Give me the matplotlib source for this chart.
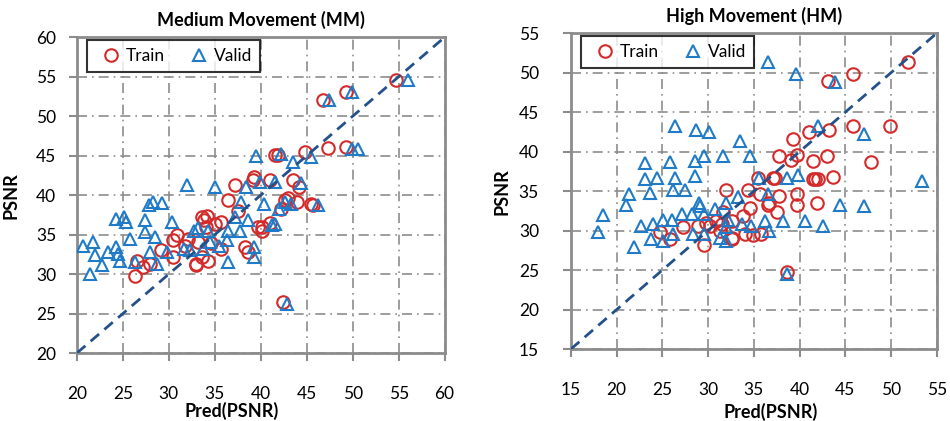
import matplotlib.pyplot as plt

plt.rcParams['font.family'] = ['Lato', 'DejaVu Sans']

# Medium Movement (MM)
mm_train_x = [26.3, 26.5, 27.2, 28.0, 29.1, 30.5, 30.5, 30.9, 31.8, 32.1, 32.9, 33.0, 33.2, 33.6, 33.6,
              33.8, 34.0, 34.1, 34.3, 34.6, 35.0, 35.7, 35.7, 36.4, 37.2, 37.5, 38.3, 38.6, 39.2, 39.3,
              39.7, 40.1, 40.1, 41.0, 41.0, 41.5, 41.9, 42.2, 42.4, 42.6, 43.0, 43.5, 43.9, 44.2, 44.8,
              45.5, 45.7, 46.8, 47.3, 49.3, 49.3, 54.7]
mm_train_y = [29.8, 31.7, 30.9, 31.3, 33.0, 32.2, 34.3, 34.9, 33.6, 34.5, 31.1, 31.3, 34.1, 32.2, 37.2,
              36.8, 36.0, 37.4, 31.7, 33.9, 36.3, 36.6, 33.2, 39.4, 41.3, 38.0, 33.4, 32.8, 41.9, 42.3,
              36.0, 35.5, 36.0, 36.5, 41.9, 45.1, 45.1, 38.3, 26.4, 39.4, 39.6, 41.9, 39.1, 41.0, 45.5,
              38.9, 38.7, 52.0, 46.0, 53.1, 46.1, 54.6]

mm_valid_x = [21.4, 20.7, 21.8, 22.0, 22.7, 23.4, 24.3, 24.5, 24.7, 24.3, 25.1, 25.3, 25.8, 26.3, 27.4,
              27.4, 27.8, 28.3, 29.2, 28.5, 28.0, 28.7, 29.8, 30.3, 31.6, 32.0, 32.3, 32.7, 33.2, 33.7,
              34.3, 34.5, 35.5, 35.0, 36.4, 36.3, 36.4, 37.7, 37.2, 37.9, 38.6, 38.4, 39.3, 39.3, 39.5,
              39.9, 40.4, 41.2, 41.5, 41.5, 42.0, 42.2, 42.6, 42.8, 43.3, 43.5, 44.4, 45.5, 46.2, 47.4,
              49.9, 49.9, 50.6, 56.0]
mm_valid_y = [30.0, 33.6, 34.1, 32.4, 31.1, 32.8, 33.4, 32.6, 31.7, 37.0, 37.2, 36.6, 34.5, 31.5, 36.8,
              35.3, 38.7, 39.1, 39.0, 34.7, 32.8, 31.3, 32.8, 36.6, 33.2, 41.3, 33.0, 35.5, 35.8, 33.2,
              35.5, 34.0, 33.5, 41.0, 35.5, 34.3, 31.5, 35.5, 37.2, 39.1, 36.8, 41.0, 33.4, 32.2, 45.0,
              41.7, 38.9, 36.2, 41.7, 36.4, 38.3, 45.2, 39.1, 26.2, 38.9, 44.2, 41.5, 44.8, 38.8, 52.0,
              53.1, 45.9, 45.9, 54.6]

# High Movement (HM)
hm_train_x = [24.7, 25.8, 27.3, 28.9, 29.6, 29.8, 30.2, 30.9, 31.3, 31.5, 31.6, 32.0, 32.6, 32.6, 32.6,
              33.8, 34.0, 34.4, 34.6, 34.9, 35.5, 35.7, 35.8, 36.6, 36.7, 37.1, 37.3, 37.5, 37.8, 37.8,
              38.6, 39.1, 39.3, 39.7, 39.7, 39.7, 41.0, 41.5, 41.5, 41.7, 41.9, 42.0, 43.0, 43.1, 43.2,
              43.7, 45.8, 45.8, 47.8, 49.9, 51.9]
hm_train_y = [29.8, 28.9, 30.4, 30.6, 28.2, 31.0, 30.6, 31.2, 30.0, 30.8, 32.3, 35.2, 29.1, 31.2, 28.9,
              31.9, 29.6, 35.2, 32.9, 29.4, 36.7, 34.6, 29.6, 33.3, 33.5, 36.7, 36.7, 32.3, 34.4, 39.4,
              24.7, 39.0, 41.6, 39.6, 34.6, 33.3, 42.5, 38.8, 36.5, 36.5, 33.5, 36.5, 39.4, 48.9, 42.8,
              36.8, 49.9, 43.2, 38.7, 43.2, 51.4]

hm_valid_x = [18.0, 18.5, 21.0, 21.3, 21.9, 22.7, 23.1, 23.1, 23.6, 23.8, 24.0, 24.4, 25.1, 25.1, 25.8,
              26.0, 26.2, 26.2, 26.4, 26.4, 27.1, 27.5, 28.2, 28.4, 28.6, 28.6, 28.7, 29.0, 29.1, 29.5,
              29.5, 29.6, 30.1, 30.7, 31.3, 31.6, 32.0, 32.0, 32.0, 32.2, 33.3, 33.5, 33.7, 34.6, 34.7,
              35.6, 36.2, 36.6, 36.6, 36.7, 38.2, 38.6, 38.6, 39.6, 39.8, 40.6, 42.0, 42.6, 43.9, 44.4,
              47.0, 47.0, 53.4]
hm_valid_y = [29.8, 32.0, 33.3, 34.6, 27.9, 30.6, 38.6, 36.5, 34.8, 28.9, 30.8, 36.7, 31.4, 28.7, 38.7,
              31.4, 35.2, 29.6, 43.2, 36.7, 32.1, 35.1, 32.1, 29.6, 38.8, 36.9, 42.8, 33.5, 33.1, 32.1,
              29.6, 39.4, 42.5, 32.7, 29.1, 39.4, 33.5, 30.4, 28.7, 31.4, 34.2, 41.3, 30.8, 39.4, 30.6,
              36.7, 31.2, 51.4, 34.6, 30.0, 31.2, 36.7, 24.5, 49.9, 37.1, 31.2, 43.2, 30.6, 48.8, 33.3,
              42.2, 33.1, 36.3]

red = '#d42a2a'
blue = '#1f7bc8'
grid_gray = '#8c8c8c'

fig = plt.figure(figsize=(9.5, 4.21), dpi=100)
ax1 = fig.add_axes([0.081, 0.1615, 0.387, 0.75])
ax2 = fig.add_axes([0.601, 0.171, 0.385, 0.75])

panels = [
    (ax1, mm_train_x, mm_train_y, mm_valid_x, mm_valid_y, 'Medium Movement (MM)', (20, 60), 0.42, -0.155, 9),
    (ax2, hm_train_x, hm_train_y, hm_valid_x, hm_valid_y, 'High Movement (HM)', (15, 55), 0.546, -0.172, 17),
]

for ax, tx, ty, vx, vy, title, lim, xlx, xly, ypad in panels:
    ax.plot(tx, ty, 'o', ms=9, mfc='none', mec=red, mew=1.5, ls='none', label='Train', zorder=3)
    ax.plot(vx, vy, '^', ms=9, mfc='none', mec=blue, mew=1.5, ls='none', label='Valid', zorder=3)
    ax.plot(lim, lim, color='#24518a', ls=(0, (4, 2.5)), lw=2, zorder=4)

    ax.set_xlim(lim)
    ax.set_ylim(lim)
    ticks = list(range(lim[0], lim[1] + 1, 5))
    ax.set_xticks(ticks)
    ax.set_yticks(ticks)
    ax.grid(True, color=grid_gray, ls=(0, (6, 3, 1, 3)), lw=1.2)
    ax.set_axisbelow(True)
    for s in ax.spines.values():
        s.set_color(grid_gray)
        s.set_linewidth(2)
    ax.tick_params(axis='both', direction='out', length=6, width=1.5, color=grid_gray,
                   labelsize=12.5, labelcolor='black')
    ax.tick_params(axis='x', pad=18)
    ax.tick_params(axis='y', pad=ypad)

    ax.set_title(title, fontsize=13, fontweight='bold', pad=8)
    ax.set_xlabel('Pred(PSNR)', fontsize=13, fontweight='bold')
    ax.xaxis.set_label_coords(xlx, xly)
    ax.set_ylabel('PSNR', fontsize=13, fontweight='bold')

    leg = ax.legend(loc='upper left', bbox_to_anchor=(0.027, 0.99), borderaxespad=0, ncol=2,
                    fontsize=12.5, frameon=True, fancybox=False, handletextpad=-0.1,
                    columnspacing=1.0, borderpad=0.45, handlelength=1.9)
    leg.get_frame().set_edgecolor('black')
    leg.get_frame().set_linewidth(1.5)

ax1.yaxis.set_label_coords(-0.155, 0.5)
ax2.yaxis.set_label_coords(-0.165, 0.5)

fig.savefig('out.png', dpi=100)
